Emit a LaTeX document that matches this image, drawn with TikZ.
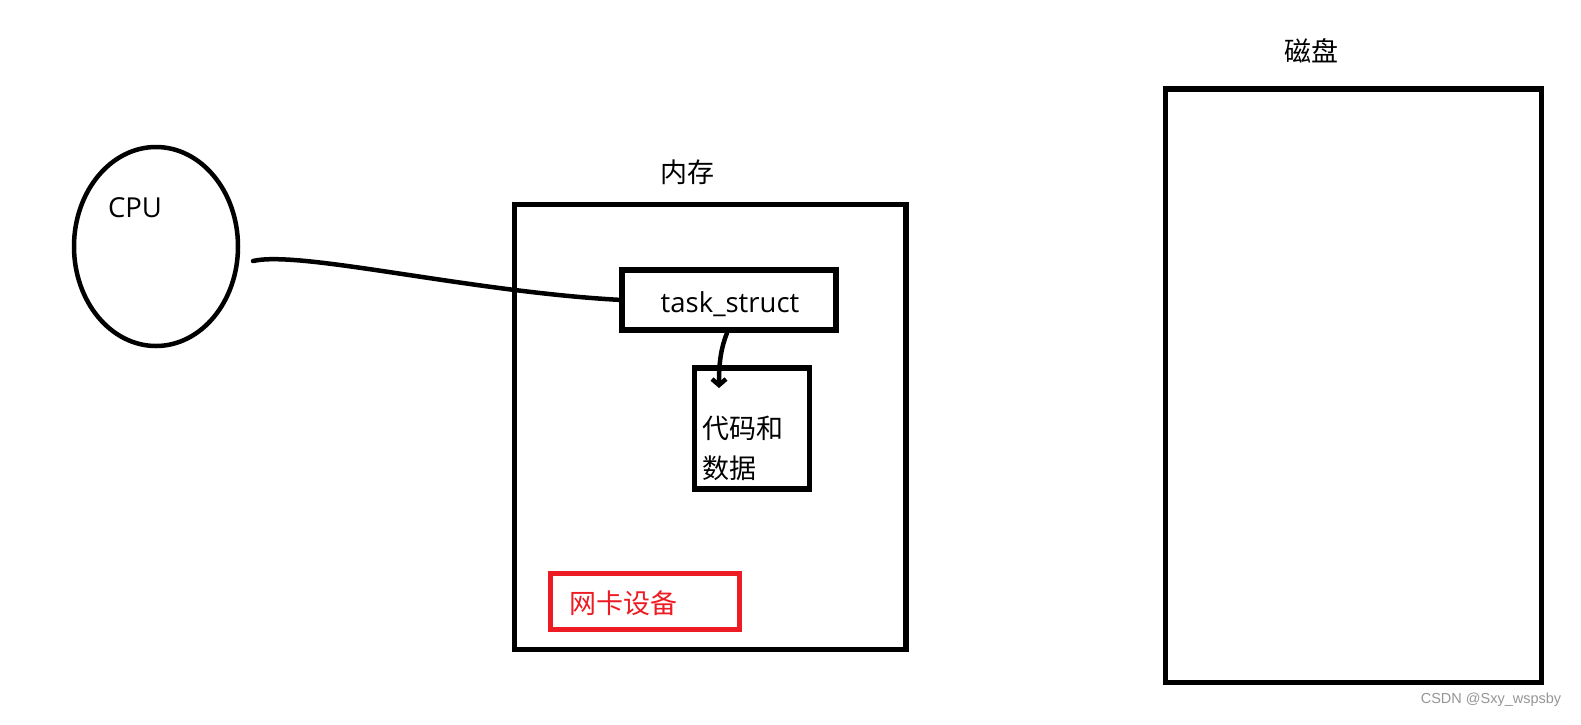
\documentclass[tikz,border=0pt]{standalone}
\usepackage{fontspec}
\setmainfont{Open Sans}
\newfontfamily\cjkfont{Noto Sans CJK SC}
\newfontfamily\wmfont{Liberation Sans}
\usetikzlibrary{shapes.geometric,arrows.meta}
\definecolor{paintred}{RGB}{237,28,36}
\definecolor{wmgray}{RGB}{150,150,150}
\tikzset{
  boxthick/.style={draw=black,line width=5.5pt,inner sep=0pt,outer sep=0pt},
  lbl/.style={inner sep=0pt,font=\cjkfont\fontsize{27}{40}\selectfont},
  latinlbl/.style={inner sep=0pt,font=\fontsize{27.5}{32}\selectfont},
  wire/.style={line width=4.5pt,line cap=round,line join=round},
}
\begin{document}
\begin{tikzpicture}[x=1pt,y=-1pt]
\useasboundingbox[fill=white] (0,0) rectangle (1581,724);
% CPU
\node[ellipse,draw,line width=4.5pt,minimum width=164pt,minimum height=199pt,inner sep=0pt] (cpu) at (156,246.5) {};
\node[latinlbl] (cpulbl) at (135,208) {CPU};
% memory
\node[boxthick,minimum width=391.5pt,minimum height=445pt] (mem) at (710.25,427) {};
\node[lbl] (memlbl) at (687,172) {内存};
% task_struct
\node[boxthick,minimum width=214pt,minimum height=60pt] (ts) at (729,300) {};
\node[latinlbl] (tslbl) at (730,304) {task\_struct};
% code and data
\node[boxthick,minimum width=115pt,minimum height=121pt] (code) at (752,428.5) {};
\node[lbl,align=left,anchor=north west] (codelbl) at (702,416) {代码和\\数据};
% NIC
\node[draw=paintred,line width=4.5pt,inner sep=0pt,minimum width=189pt,minimum height=56pt] (nic) at (645,601.5) {};
\node[lbl,text=paintred] (niclbl) at (623,603) {网卡设备};
% disk
\node[boxthick,minimum width=376pt,minimum height=593.5pt] (disk) at (1353.5,385.75) {};
\node[lbl] (disklbl) at (1311,51) {磁盘};
% connectors
\coordinate (cpuend) at (253,261);
\draw[wire] (cpuend) .. controls (300,250) and (470,292) .. (ts.west);
\coordinate (codetip) at (719,388);
\draw[wire,-{Straight Barb[length=6pt,width=14pt]}] (727,333) .. controls (721,348) and (719,362) .. (codetip);
% watermark
\node[inner sep=0pt,text=wmgray,font=\wmfont\fontsize{14.5}{16}\selectfont] (wm) at (1491,700) {CSDN @Sxy\_wspsby};
\end{tikzpicture}
\end{document}
